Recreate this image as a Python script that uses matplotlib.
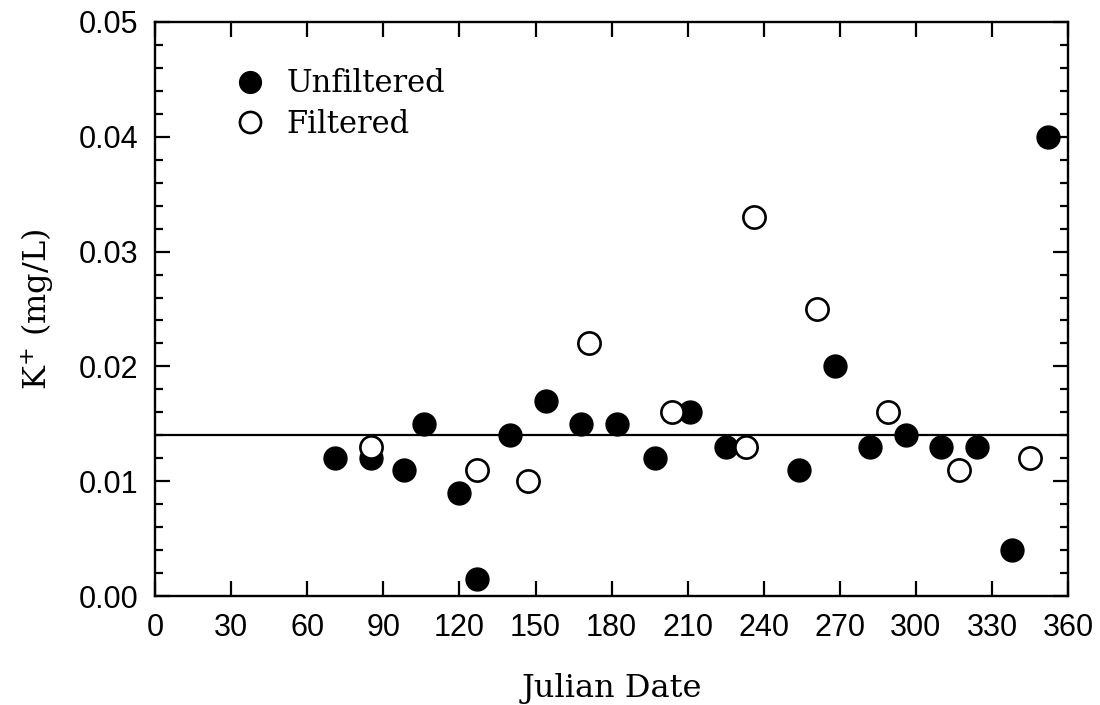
import matplotlib
matplotlib.use("Agg")
import matplotlib.pyplot as plt
from matplotlib.ticker import MultipleLocator

# Julian day vs K+ concentration (mg/L)
unf_day = [71, 85, 98, 106, 120, 127, 140, 154, 168, 182, 197, 211, 225,
           254, 268, 282, 296, 310, 324, 338, 352]
unf_k = [0.012, 0.012, 0.011, 0.015, 0.009, 0.0015, 0.014, 0.017, 0.015,
         0.015, 0.012, 0.016, 0.013, 0.011, 0.020, 0.013, 0.014, 0.013,
         0.013, 0.004, 0.040]

filt_day = [85, 127, 147, 171, 204, 233, 236, 261, 289, 317, 345]
filt_k = [0.013, 0.011, 0.010, 0.022, 0.016, 0.013, 0.033, 0.025, 0.016,
          0.011, 0.012]

mean_k = 0.014

serif = "DejaVu Serif"
sans = "Liberation Sans"

fig = plt.figure(figsize=(11, 7.05), dpi=100)
ax = fig.add_axes([0.141, 0.1546, 0.830, 0.8142])

ax.axhline(mean_k, color="black", lw=1.6, zorder=1)
ax.plot(unf_day, unf_k, "o", color="black", ms=16.5, label="Unfiltered",
        zorder=3)
ax.plot(filt_day, filt_k, "o", mfc="white", mec="black", mew=1.9, ms=16,
        label="Filtered", zorder=3)

ax.set_xlim(0, 360)
ax.set_ylim(0, 0.05)
ax.xaxis.set_major_locator(MultipleLocator(30))
ax.yaxis.set_major_locator(MultipleLocator(0.01))
ax.yaxis.set_minor_locator(MultipleLocator(0.002))
ax.yaxis.set_major_formatter(matplotlib.ticker.FormatStrFormatter("%.2f"))

for s in ax.spines.values():
    s.set_linewidth(1.7)
ax.tick_params(which="both", direction="in", top=True, right=True,
               width=1.6, labelsize=22, pad=12)
ax.tick_params(which="major", length=11)
ax.tick_params(which="minor", length=6)
for lab in ax.get_xticklabels() + ax.get_yticklabels():
    lab.set_fontfamily(sans)

ax.set_xlabel("Julian Date", fontfamily=serif, fontsize=23, labelpad=22)
ax.set_ylabel("K$^{+}$ (mg/L)", fontfamily=serif, fontsize=23, labelpad=16)

ax.legend(loc="upper left", bbox_to_anchor=(0.04, 0.967), frameon=False,
          prop={"family": serif, "size": 22}, handletextpad=0.2,
          labelspacing=0.3, markerscale=0.95, numpoints=1)

fig.savefig("out.png", dpi=100)
